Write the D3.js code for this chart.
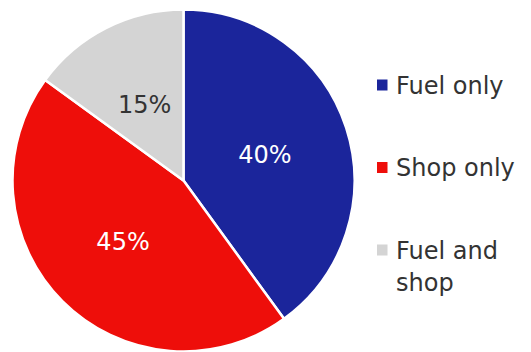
<!DOCTYPE html>
<html><head><meta charset="utf-8">
<script src="https://cdn.jsdelivr.net/npm/d3@7"></script>
<style>body{margin:0;background:#fff;}svg{display:block;font-family:"DejaVu Sans", sans-serif;}</style>
</head><body>
<svg id="c" width="531" height="352"></svg>
<script>
const categories = ["Fuel only", "Shop only", "Fuel and shop"];
const values = [40, 45, 15];
const labels = ["40%", "45%", "15%"];
const colors = ["#1b259b", "#ee0e0a", "#d4d4d4"];
const labelColors = ["#ffffff", "#ffffff", "#333333"];
const legendLines = [["Fuel only"], ["Shop only"], ["Fuel and", "shop"]];

const svg = d3.select("#c");
const cx = 183.5, cy = 180.5, R = 171;
const data = categories.map((c, i) => ({cat: c, v: values[i], i}));
const pie = d3.pie().value(d => d.v).sort(null);
const arc = d3.arc().innerRadius(0).outerRadius(R);
const color = d3.scaleOrdinal().domain(categories).range(colors);
const g = svg.append("g").attr("transform", `translate(${cx},${cy})`);
const arcs = pie(data);
g.selectAll("path").data(arcs).join("path")
  .attr("d", arc).attr("fill", d => color(d.data.cat))
  .attr("stroke", "#fff").attr("stroke-width", 2.5).attr("stroke-linejoin", "round");
g.selectAll("text").data(arcs).join("text")
  .attr("transform", d => `translate(${arc.centroid(d)})`)
  .attr("text-anchor", "middle").attr("dy", "0.36em")
  .attr("font-size", 24).attr("font-weight", 400).attr("fill", d => labelColors[d.data.i])
  .text(d => labels[d.data.i]);

const ly = d3.scalePoint().domain(categories).range([85, 250]);
const lg = svg.append("g");
categories.forEach((c, i) => {
  const y = ly(c);
  lg.append("rect").attr("x", 377).attr("y", y - 5.5).attr("width", 10.5).attr("height", 11).attr("fill", color(c));
  const t = lg.append("text").attr("x", 396).attr("y", y + 8.5).attr("font-size", 24).attr("font-weight", 400).attr("fill", "#333");
  legendLines[i].forEach((l, j) => t.append("tspan").attr("x", 396).attr("dy", j === 0 ? 0 : 32).text(l));
});
</script>
</body></html>
